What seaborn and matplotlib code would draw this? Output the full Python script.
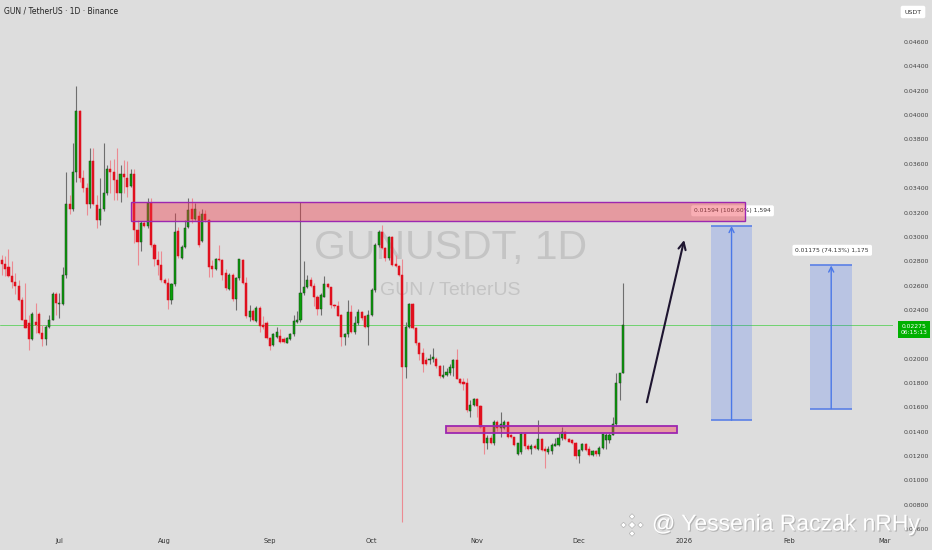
import numpy as np
import pandas as pd
import matplotlib
matplotlib.use("Agg")
import matplotlib.pyplot as plt
import matplotlib.patches as mpatches
import matplotlib.patheffects as pe
import seaborn as sns

# ---------------- data ----------------
start_date = "2025-06-14"
open_ = [0.0281,0.0278,0.0275,0.0268,0.0263,0.0260,0.0248,0.0232,0.0229,0.0216,
         0.0230,0.0237,0.0221,0.0216,0.0226,0.0232,0.0253,0.0245,0.0245,0.0269,
         0.0327,0.0323,0.0353,0.0403,0.0348,0.0340,0.0327,0.0362,0.0326,0.0314,
         0.0323,0.0336,0.0356,0.0353,0.0347,0.0336,0.0352,0.0348,0.0342,0.0352,
         0.0306,0.0296,0.0311,0.0309,0.0328,0.0293,0.0281,0.0277,0.0265,0.0262,
         0.0248,0.0261,0.0305,0.0283,0.0292,0.0308,0.0323,0.0315,0.0317,0.0297,
         0.0319,0.0314,0.0276,0.0274,0.0282,0.0281,0.0270,0.0257,0.0269,0.0249,
         0.0266,0.0281,0.0262,0.0234,0.0239,0.0231,0.0242,0.0228,0.0229,0.0217,
         0.0211,0.0218,0.0219,0.0216,0.0213,0.0216,0.0220,0.0230,0.0232,0.0254,
         0.0259,0.0265,0.0260,0.0251,0.0241,0.0251,0.0261,0.0259,0.0244,0.0243,
         0.0236,0.0218,0.0220,0.0238,0.0222,0.0229,0.0238,0.0235,0.0226,0.0236,
         0.0256,0.0293,0.0304,0.0291,0.0283,0.0300,0.0278,0.0276,0.0269,0.0193,
         0.0226,0.0245,0.0225,0.0213,0.0205,0.0199,0.0199,0.0200,0.0200,0.0194,
         0.0185,0.0187,0.0188,0.0192,0.0199,0.0183,0.0181,0.0180,0.0157,0.0162,
         0.0167,0.0161,0.0144,0.0131,0.0135,0.0131,0.0148,0.0143,0.0143,0.0148,
         0.0137,0.0136,0.0122,0.0123,0.0138,0.0128,0.0126,0.0128,0.0126,0.0134,
         0.0126,0.0123,0.0124,0.0128,0.0129,0.0135,0.0140,0.0134,0.0133,0.0131,
         0.0120,0.0125,0.0130,0.0126,0.0121,0.0124,0.0122,0.0127,0.0133,0.0133,
         0.0137,0.0146,0.0180,0.0188]
high = [0.0285,0.0284,0.0290,0.0280,0.0270,0.0265,0.0251,0.0262,0.0236,0.0238,
        0.0246,0.0238,0.0228,0.0228,0.0236,0.0255,0.0255,0.0254,0.0275,0.0353,
        0.0334,0.0377,0.0424,0.0404,0.0355,0.0344,0.0373,0.0373,0.0334,0.0348,
        0.0377,0.0359,0.0363,0.0364,0.0373,0.0359,0.0363,0.0362,0.0356,0.0356,
        0.0314,0.0313,0.0313,0.0332,0.0332,0.0295,0.0288,0.0288,0.0266,0.0266,
        0.0262,0.0320,0.0308,0.0293,0.0314,0.0332,0.0332,0.0328,0.0321,0.0323,
        0.0322,0.0315,0.0281,0.0283,0.0293,0.0282,0.0274,0.0270,0.0270,0.0267,
        0.0282,0.0282,0.0267,0.0244,0.0241,0.0243,0.0243,0.0235,0.0231,0.0218,
        0.0221,0.0226,0.0224,0.0218,0.0218,0.0221,0.0236,0.0239,0.0329,0.0280,
        0.0269,0.0267,0.0262,0.0252,0.0254,0.0268,0.0262,0.0259,0.0245,0.0247,
        0.0237,0.0221,0.0248,0.0244,0.0235,0.0241,0.0239,0.0236,0.0240,0.0258,
        0.0295,0.0306,0.0310,0.0292,0.0301,0.0301,0.0285,0.0277,0.0282,0.0230,
        0.0246,0.0246,0.0226,0.0214,0.0209,0.0201,0.0204,0.0209,0.0201,0.0195,
        0.0195,0.0192,0.0196,0.0200,0.0208,0.0184,0.0184,0.0184,0.0166,0.0168,
        0.0168,0.0162,0.0144,0.0137,0.0137,0.0150,0.0150,0.0156,0.0150,0.0149,
        0.0138,0.0136,0.0131,0.0140,0.0140,0.0130,0.0130,0.0130,0.0150,0.0135,
        0.0128,0.0128,0.0131,0.0135,0.0139,0.0144,0.0141,0.0135,0.0134,0.0132,
        0.0126,0.0131,0.0131,0.0128,0.0125,0.0125,0.0128,0.0139,0.0139,0.0139,
        0.0152,0.0188,0.0188,0.0262]
low = [0.0269,0.0268,0.0267,0.0258,0.0253,0.0247,0.0232,0.0225,0.0207,0.0215,
       0.0221,0.0220,0.0210,0.0211,0.0225,0.0232,0.0236,0.0233,0.0244,0.0266,
       0.0319,0.0321,0.0345,0.0345,0.0337,0.0318,0.0324,0.0326,0.0307,0.0310,
       0.0321,0.0334,0.0336,0.0330,0.0330,0.0329,0.0336,0.0333,0.0341,0.0295,
       0.0277,0.0288,0.0308,0.0307,0.0292,0.0276,0.0269,0.0263,0.0261,0.0241,
       0.0245,0.0260,0.0283,0.0282,0.0291,0.0307,0.0311,0.0314,0.0292,0.0296,
       0.0312,0.0267,0.0267,0.0273,0.0280,0.0265,0.0256,0.0256,0.0247,0.0240,
       0.0265,0.0261,0.0233,0.0231,0.0231,0.0230,0.0222,0.0224,0.0216,0.0207,
       0.0210,0.0217,0.0213,0.0213,0.0213,0.0215,0.0219,0.0229,0.0230,0.0252,
       0.0258,0.0259,0.0243,0.0236,0.0236,0.0251,0.0258,0.0242,0.0242,0.0235,
       0.0210,0.0211,0.0218,0.0221,0.0220,0.0228,0.0232,0.0225,0.0211,0.0235,
       0.0255,0.0292,0.0290,0.0280,0.0281,0.0276,0.0275,0.0268,0.0066,0.0184,
       0.0225,0.0224,0.0211,0.0199,0.0189,0.0195,0.0196,0.0197,0.0192,0.0184,
       0.0184,0.0186,0.0187,0.0186,0.0183,0.0179,0.0174,0.0156,0.0152,0.0161,
       0.0152,0.0143,0.0122,0.0126,0.0130,0.0129,0.0141,0.0136,0.0142,0.0135,
       0.0135,0.0128,0.0121,0.0122,0.0126,0.0125,0.0122,0.0126,0.0125,0.0124,
       0.0110,0.0122,0.0122,0.0128,0.0128,0.0133,0.0133,0.0132,0.0130,0.0118,
       0.0114,0.0124,0.0124,0.0120,0.0120,0.0120,0.0120,0.0126,0.0126,0.0131,
       0.0137,0.0145,0.0166,0.0188]
close = [0.0278,0.0274,0.0268,0.0263,0.0260,0.0248,0.0232,0.0225,0.0216,0.0237,
         0.0228,0.0221,0.0216,0.0226,0.0232,0.0253,0.0246,0.0246,0.0269,0.0327,
         0.0323,0.0353,0.0403,0.0348,0.0340,0.0327,0.0362,0.0327,0.0314,0.0323,
         0.0336,0.0356,0.0353,0.0347,0.0336,0.0352,0.0349,0.0341,0.0352,0.0306,
         0.0296,0.0311,0.0309,0.0328,0.0293,0.0282,0.0277,0.0265,0.0262,0.0248,
         0.0261,0.0304,0.0284,0.0292,0.0307,0.0322,0.0315,0.0323,0.0293,0.0319,
         0.0314,0.0275,0.0274,0.0282,0.0281,0.0269,0.0258,0.0269,0.0249,0.0266,
         0.0282,0.0262,0.0235,0.0239,0.0232,0.0242,0.0227,0.0226,0.0217,0.0210,
         0.0220,0.0222,0.0214,0.0214,0.0217,0.0220,0.0231,0.0232,0.0254,0.0259,
         0.0265,0.0260,0.0251,0.0241,0.0252,0.0261,0.0259,0.0244,0.0243,0.0235,
         0.0218,0.0220,0.0238,0.0222,0.0229,0.0238,0.0233,0.0226,0.0236,0.0256,
         0.0293,0.0304,0.0291,0.0283,0.0300,0.0277,0.0276,0.0269,0.0193,0.0226,
         0.0245,0.0225,0.0213,0.0204,0.0196,0.0196,0.0200,0.0201,0.0194,0.0186,
         0.0187,0.0189,0.0193,0.0199,0.0183,0.0180,0.0179,0.0158,0.0162,0.0167,
         0.0161,0.0144,0.0131,0.0135,0.0131,0.0148,0.0143,0.0146,0.0148,0.0136,
         0.0136,0.0129,0.0131,0.0138,0.0128,0.0126,0.0128,0.0127,0.0134,0.0125,
         0.0124,0.0126,0.0129,0.0130,0.0135,0.0140,0.0134,0.0132,0.0131,0.0120,
         0.0125,0.0130,0.0125,0.0121,0.0124,0.0122,0.0127,0.0138,0.0137,0.0137,
         0.0146,0.0180,0.0188,0.02275]

last_price = 0.02275
countdown = "06:15:13"
month_labels = ["Jul", "Aug", "Sep", "Oct", "Nov", "Dec", "2026", "Feb", "Mar"]
month_dates = ["2025-07-01", "2025-08-01", "2025-09-01", "2025-10-01", "2025-11-01",
               "2025-12-01", "2026-01-01", "2026-02-01", "2026-03-01"]
# 0.02200 is hidden behind the last-price label in the reference
price_ticks = [0.006 + 0.002 * k for k in range(21) if k != 8]

# zones (index from, index to, price low, price high)
resistance_zone = (38.1, 219.0, 0.03130, 0.03289)
support_zone = (130.9, 198.9, 0.01392, 0.01450)
# projections: (index from, index to, base price, target price, label)
projections = [
    (208.9, 221.0, 0.01495, 0.03089, "0.01594 (106.60%) 1,594"),
    (238.1, 250.5, 0.01590, 0.02765, "0.01175 (74.13%) 1,175"),
]
trend_arrow = ((190.0, 0.01642), (201.0, 0.02974))

# ---------------- styling ----------------
BG = "#dddddd"
sns.set_theme(style="white", rc={"axes.facecolor": BG, "figure.facecolor": BG})
plt.rcParams["font.family"] = ["DejaVu Sans"]

fig = plt.figure(figsize=(9.32, 5.5), dpi=100)
ax = fig.add_axes([0, 20 / 550, 893 / 932, 530 / 550])
ax.set_facecolor(BG)

o = np.array(open_); h = np.array(high); l = np.array(low); c = np.array(close)
x = np.arange(len(c))
up = c >= o
body_col = np.where(up, "#0aa00a", "#e0101e")
edge_col = np.where(up, "#1e3d1e", "#e0101e")
wick_col = np.where(up, "#6e6e6e", "#ec8a92")

ax.vlines(x, l, h, colors=wick_col, lw=0.8, zorder=3)
heights = np.maximum(np.abs(c - o), 0.00006)
ax.bar(x, heights, bottom=np.minimum(o, c), width=0.62, color=body_col,
       edgecolor=edge_col, linewidth=0.35, zorder=4)

# current price line
ax.axhline(last_price, color="#6fd26f", lw=0.7, zorder=2)

# watermarks
wm_font = ["Liberation Sans", "DejaVu Sans"]
ax.text(0.504, 0.532, "GUNUSDT, 1D", transform=ax.transAxes, ha="center",
        va="center", fontsize=29.5, color="#c4c4c4", family=wm_font, zorder=1)
ax.text(0.504, 0.451, "GUN / TetherUS", transform=ax.transAxes, ha="center",
        va="center", fontsize=14, color="#c4c4c4", family=wm_font, zorder=1)

# zones
for (x0, x1, y0, y1), lw in ((resistance_zone, 1.0), (support_zone, 1.3)):
    ax.add_patch(mpatches.Rectangle((x0, y0), x1 - x0, y1 - y0,
                                    facecolor=(0.949, 0.212, 0.271, 0.40),
                                    edgecolor="#9c27b0", lw=lw, zorder=6))

# projection boxes
for (x0, x1, y0, y1, lab) in projections:
    ax.add_patch(mpatches.Rectangle((x0, y0), x1 - x0, y1 - y0,
                                    facecolor=(0.16, 0.38, 1.0, 0.20),
                                    edgecolor="none", zorder=2))
    ax.hlines([y0, y1], x0, x1, colors="#5b80e6", lw=1.2, zorder=3)
    cx = (x0 + x1) / 2
    ax.annotate("", xy=(cx, y1), xytext=(cx, y0),
                arrowprops=dict(arrowstyle="->", color="#4a78e8", lw=1.0,
                                mutation_scale=9, shrinkA=0, shrinkB=0), zorder=3)
    ax.text(cx + 0.3, y1 + 0.00125, lab, ha="center", va="center", fontsize=4.3,
            color="#333333", zorder=5,
            bbox=dict(boxstyle="round,pad=0.5,rounding_size=0.3", fc="white",
                      ec="none"))

# trend arrow
ax.annotate("", xy=trend_arrow[1], xytext=trend_arrow[0],
            arrowprops=dict(arrowstyle="->", color="#1e1530", lw=1.5,
                            mutation_scale=13, shrinkA=0, shrinkB=0), zorder=7)

# axes
start = pd.Timestamp(start_date)
tick_pos = [(pd.Timestamp(d) - start).days for d in month_dates]
ax.set_xticks(tick_pos)
ax.set_xticklabels(month_labels, fontsize=4.8, color="#333333")
ax.set_xlim(-0.5, 262.5)
ax.set_ylim(0.005934, 0.049448)
ax.yaxis.tick_right()
ax.set_yticks(price_ticks)
ax.set_yticklabels([f"{v:.5f}" for v in price_ticks], fontsize=4.5, color="#444444")
ax.tick_params(axis="both", length=0)
ax.tick_params(axis="y", pad=8)
ax.tick_params(axis="x", pad=6)
for s in ax.spines.values():
    s.set_visible(False)
ax.grid(False)

# price label (first line on the price, countdown below)
ax.text(1.0235, last_price - 0.00035, f"{last_price:.5f}\n{countdown}",
        transform=ax.get_yaxis_transform(), ha="center", va="center",
        fontsize=4.3, color="white", linespacing=1.25, clip_on=False, zorder=10,
        bbox=dict(boxstyle="square,pad=0.45", fc="#00b000", ec="none"))

# header texts
fig.text(4 / 932, 1 - 11 / 550, "GUN / TetherUS · 1D · Binance", fontsize=5.5,
         color="#222222", ha="left", va="center")
fig.text(913 / 932, 1 - 12 / 550, "USDT", fontsize=4.5, color="#333333",
         ha="center", va="center",
         bbox=dict(boxstyle="round,pad=0.6,rounding_size=0.3", fc="white", ec="none"))

# bottom author watermark
shadow = [pe.withSimplePatchShadow(offset=(0.8, -0.8), shadow_rgbFace="#9a9a9a", alpha=0.6)]
fig.text(652 / 932, 26 / 550, "@ Yessenia Raczak nRHy", fontsize=16.5, color="white",
         ha="left", va="center", family=["Liberation Sans", "DejaVu Sans"],
         path_effects=shadow, zorder=20)
# Binance-like logo drawn in inches
lcx, lcy = 632 / 100, 25 / 100
for dx, dy, r in ((0, 0, 0.035), (-0.085, 0, 0.028), (0.085, 0, 0.028),
                  (0, 0.085, 0.028), (0, -0.085, 0.028)):
    fig.patches.append(mpatches.RegularPolygon(
        (lcx + dx, lcy + dy), 4, radius=r, orientation=0,
        transform=fig.dpi_scale_trans, fc="white", ec="#a8a8a8", lw=0.4, zorder=20))

fig.savefig("out.png", dpi=100, facecolor=BG)
